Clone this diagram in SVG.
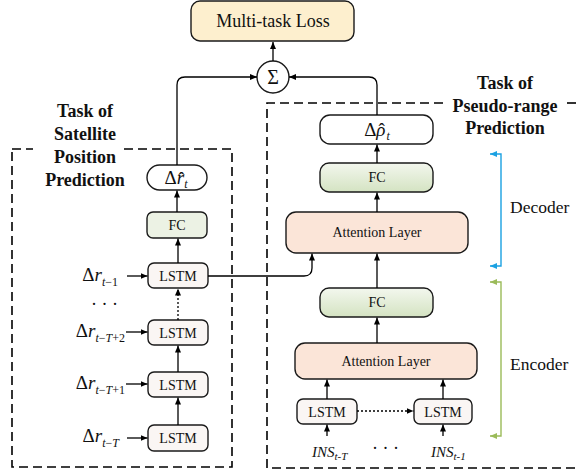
<svg xmlns="http://www.w3.org/2000/svg" width="576" height="476" viewBox="0 0 576 476">
  <defs>
    <style>
      .box { stroke: #1a1a1a; stroke-width: 1.4; }
      .loss { fill: #fdefce; }
      .fc { fill: url(#fcGrad); }
      .fcl { fill: #ecf2e4; }
      .att { fill: #fbe5d8; }
      .lstm { fill: #faf6f4; }
      .out { fill: #ffffff; }
      .conn { fill: none; stroke: #000; stroke-width: 1.3; }
      .dot { fill: none; stroke: #000; stroke-width: 1.3; stroke-dasharray: 2 2; }
      .frame { fill: none; stroke: #000; stroke-width: 1.6; stroke-dasharray: 9 5; }
      .serif { font-family: "Liberation Serif", "Times New Roman", serif; fill: #111; }
      .t14 { font-size: 14px; }
      .t18 { font-size: 18px; }
      .head { font-size: 18px; font-weight: bold; }
      .it { font-style: italic; }
      .sub { font-size: 12px; }
    </style>
    <linearGradient id="fcGrad" x1="0" y1="0" x2="0" y2="1">
      <stop offset="0" stop-color="#f3f7ee"/>
      <stop offset="1" stop-color="#d4e3c2"/>
    </linearGradient>
    <marker id="arr" viewBox="0 0 7 6" refX="7" refY="3" markerWidth="7" markerHeight="6" markerUnits="userSpaceOnUse" orient="auto">
      <path d="M0,0 L7,3 L0,6 z" fill="#000"/>
    </marker>
    <marker id="arrBlue" viewBox="0 0 7 6" refX="7" refY="3" markerWidth="7" markerHeight="6" markerUnits="userSpaceOnUse" orient="auto-start-reverse">
      <path d="M0,0 L7,3 L0,6 z" fill="#1ba1e2"/>
    </marker>
    <marker id="arrGreen" viewBox="0 0 7 6" refX="7" refY="3" markerWidth="7" markerHeight="6" markerUnits="userSpaceOnUse" orient="auto-start-reverse">
      <path d="M0,0 L7,3 L0,6 z" fill="#9bbb59"/>
    </marker>
  </defs>

  <rect width="576" height="476" fill="#ffffff"/>

  <!-- task frames -->
  <g id="frame-satellite">
    <path class="frame" d="M12,149 H33"/>
    <path class="frame" d="M124,149 H232 V467 H12 V149"/>
    <text class="serif head" text-anchor="middle" x="85" y="117">Task of</text>
    <text class="serif head" text-anchor="middle" x="85" y="140">Satellite</text>
    <text class="serif head" text-anchor="middle" x="85" y="163">Position</text>
    <text class="serif head" text-anchor="middle" x="85" y="186">Prediction</text>
  </g>
  <g id="frame-pseudorange">
    <path class="frame" d="M443,103 H267 V468 H576"/>
    <path class="frame" d="M567,103 H576"/>
    <text class="serif head" text-anchor="middle" x="505" y="89">Task of</text>
    <text class="serif head" text-anchor="middle" x="505" y="112">Pseudo-range</text>
    <text class="serif head" text-anchor="middle" x="505" y="134">Prediction</text>
  </g>

  <!-- nodes -->
  <g id="loss">
    <rect class="box loss" x="191" y="1" width="163" height="40" rx="9"/>
    <text class="serif t18" text-anchor="middle" x="273" y="27">Multi-task Loss</text>
  </g>
  <g id="sum">
    <circle class="box out" cx="273" cy="77" r="16"/>
    <text class="serif" font-size="20" text-anchor="middle" x="273" y="84">Σ</text>
  </g>

  <g id="sat-out">
    <rect class="box out" x="147" y="165" width="60" height="25" rx="12.5"/>
    <text class="serif" font-size="19" text-anchor="middle" x="176" y="184">Δ<tspan class="it">r</tspan><tspan dx="-5.8" dy="1">ˆ</tspan><tspan class="it sub" dx="-0.4" dy="3">t</tspan></text>
  </g>
  <g id="sat-fc">
    <rect class="box fcl" x="147" y="212" width="60" height="26" rx="6"/>
    <text class="serif t14" text-anchor="middle" x="177" y="230">FC</text>
  </g>
  <g id="sat-lstm-1">
    <rect class="box lstm" x="148" y="263" width="60" height="25" rx="6"/>
    <text class="serif t14" text-anchor="middle" x="178" y="281">LSTM</text>
  </g>
  <g id="sat-lstm-2">
    <rect class="box lstm" x="148" y="320" width="60" height="25" rx="6"/>
    <text class="serif t14" text-anchor="middle" x="178" y="338">LSTM</text>
  </g>
  <g id="sat-lstm-3">
    <rect class="box lstm" x="148" y="372" width="60" height="25" rx="6"/>
    <text class="serif t14" text-anchor="middle" x="178" y="390">LSTM</text>
  </g>
  <g id="sat-lstm-4">
    <rect class="box lstm" x="148" y="425" width="60" height="26" rx="6"/>
    <text class="serif t14" text-anchor="middle" x="178" y="443">LSTM</text>
  </g>

  <g id="pr-out">
    <rect class="box out" x="320" y="115" width="113" height="29" rx="10"/>
    <text class="serif" font-size="19" text-anchor="middle" x="377" y="136">Δ<tspan class="it">ρ</tspan><tspan dx="-6.9">ˆ</tspan><tspan class="it sub" dx="1.6" dy="4">t</tspan></text>
  </g>
  <g id="dec-fc">
    <rect class="box fc" x="320" y="163" width="113" height="29" rx="9"/>
    <text class="serif t14" text-anchor="middle" x="377" y="182">FC</text>
  </g>
  <g id="dec-att">
    <rect class="box att" x="286" y="212" width="182" height="41" rx="10"/>
    <text class="serif t14" text-anchor="middle" x="377" y="237">Attention Layer</text>
  </g>
  <g id="enc-fc">
    <rect class="box fc" x="320" y="288" width="113" height="29" rx="9"/>
    <text class="serif t14" text-anchor="middle" x="377" y="307">FC</text>
  </g>
  <g id="enc-att">
    <rect class="box att" x="295" y="343" width="182" height="36" rx="10"/>
    <text class="serif t14" text-anchor="middle" x="386" y="366">Attention Layer</text>
  </g>
  <g id="enc-lstm-a">
    <rect class="box lstm" x="297" y="399" width="60" height="25" rx="6"/>
    <text class="serif t14" text-anchor="middle" x="327" y="417">LSTM</text>
  </g>
  <g id="enc-lstm-b">
    <rect class="box lstm" x="414" y="399" width="58" height="25" rx="6"/>
    <text class="serif t14" text-anchor="middle" x="443" y="417">LSTM</text>
  </g>

  <!-- input labels -->
  <g id="inputs" class="serif">
    <text font-size="19" text-anchor="end" x="118" y="281">Δ<tspan class="it">r</tspan><tspan class="sub" dy="5"><tspan class="it">t</tspan>−1</tspan></text>
    <text font-size="19" text-anchor="end" x="125" y="337">Δ<tspan class="it">r</tspan><tspan class="sub" dy="5"><tspan class="it">t</tspan>−<tspan class="it">T</tspan>+2</tspan></text>
    <text font-size="19" text-anchor="end" x="125" y="389">Δ<tspan class="it">r</tspan><tspan class="sub" dy="5"><tspan class="it">t</tspan>−<tspan class="it">T</tspan>+1</tspan></text>
    <text font-size="19" text-anchor="end" x="119" y="442">Δ<tspan class="it">r</tspan><tspan class="sub" dy="5"><tspan class="it">t</tspan>−<tspan class="it">T</tspan></tspan></text>
    <text font-size="18" x="91" y="310">· · ·</text>
    <text class="it" font-size="15" x="312" y="457">INS<tspan font-size="11" dy="3">t-T</tspan></text>
    <text class="it" font-size="15" x="431" y="457">INS<tspan font-size="11" dy="3">t-1</tspan></text>
    <text font-size="18" x="372" y="454">· · ·</text>
  </g>

  <!-- decoder / encoder spans -->
  <g id="decoder-span">
    <path d="M490,154 H501 V266 H490" fill="none" stroke="#1ba1e2" stroke-width="1.4" marker-start="url(#arrBlue)" marker-end="url(#arrBlue)"/>
    <text class="serif" font-size="17.5" x="510" y="213">Decoder</text>
  </g>
  <g id="encoder-span">
    <path d="M490,282 H501 V436 H490" fill="none" stroke="#9bbb59" stroke-width="1.4" marker-start="url(#arrGreen)" marker-end="url(#arrGreen)"/>
    <text class="serif" font-size="17.5" x="510" y="370">Encoder</text>
  </g>

  <!-- connectors -->
  <g id="connectors">
    <path class="conn" d="M273,61 V42" marker-end="url(#arr)"/>
    <path class="conn" d="M177,165 V85 Q177,77 185,77 H257" marker-end="url(#arr)"/>
    <path class="conn" d="M377,115 V85 Q377,77 369,77 H289" marker-end="url(#arr)"/>

    <path class="conn" d="M177,212 V190.5" marker-end="url(#arr)"/>
    <path class="conn" d="M178,263 V238.5" marker-end="url(#arr)"/>
    <path class="dot" d="M178,320 V288.5" marker-end="url(#arr)"/>
    <path class="conn" d="M178,372 V345.5" marker-end="url(#arr)"/>
    <path class="conn" d="M178,425 V397.5" marker-end="url(#arr)"/>

    <path class="conn" d="M127,276 H147.5" marker-end="url(#arr)"/>
    <path class="conn" d="M126,332 H147.5" marker-end="url(#arr)"/>
    <path class="conn" d="M126,384 H147.5" marker-end="url(#arr)"/>
    <path class="conn" d="M127,438 H147.5" marker-end="url(#arr)"/>

    <path class="conn" d="M208,276 H304 Q312,276 312,268 V253.5" marker-end="url(#arr)"/>

    <path class="conn" d="M377,163 V144.5" marker-end="url(#arr)"/>
    <path class="conn" d="M377,212 V192.5" marker-end="url(#arr)"/>
    <path class="conn" d="M377,288 V253.5" marker-end="url(#arr)"/>
    <path class="conn" d="M377,343 V317.5" marker-end="url(#arr)"/>
    <path class="conn" d="M327,399 V379.5" marker-end="url(#arr)"/>
    <path class="conn" d="M443,399 V379.5" marker-end="url(#arr)"/>
    <path class="dot" d="M357,411 H413.5" marker-end="url(#arr)"/>
    <path class="conn" d="M327,436 V424.5" marker-end="url(#arr)"/>
    <path class="conn" d="M443,436 V424.5" marker-end="url(#arr)"/>
  </g>
</svg>
